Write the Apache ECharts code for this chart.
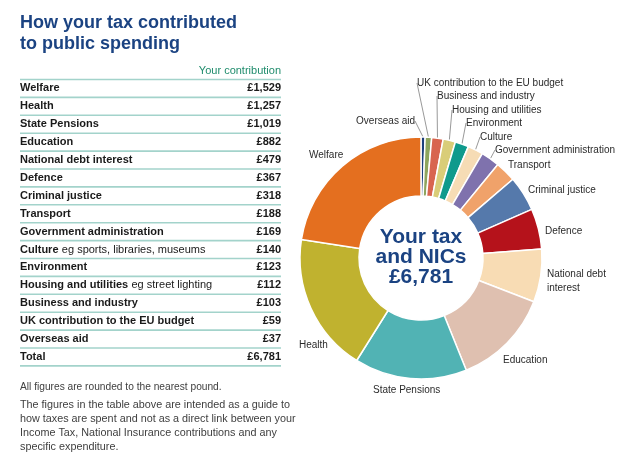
<!DOCTYPE html>
<html>
<head>
<meta charset="utf-8">
<script src="https://cdn.jsdelivr.net/npm/echarts@6/dist/echarts.min.js"></script>
<style>
html,body{margin:0;padding:0;background:#fff;}
#chart{width:621px;height:454px;}
</style>
</head>
<body>
<div id="chart"></div>
<script>
// ---- data ----
const titleLines = ['How your tax contributed', 'to public spending'];
const columnHeader = 'Your contribution';
const categories = ['Welfare', 'Health', 'State Pensions', 'Education', 'National debt interest', 'Defence', 'Criminal justice', 'Transport', 'Government administration', 'Culture', 'Environment', 'Housing and utilities', 'Business and industry', 'UK contribution to the EU budget', 'Overseas aid'];
const values = [1529, 1257, 1019, 882, 479, 367, 318, 188, 169, 140, 123, 112, 103, 59, 37];
const categoryNotes = ['', '', '', '', '', '', '', '', '', 'eg sports, libraries, museums', '', 'eg street lighting', '', '', ''];
const pieLabels = ['Welfare', 'Health', 'State Pensions', 'Education', 'National debt\ninterest', 'Defence', 'Criminal justice', 'Transport', 'Government administration', 'Culture', 'Environment', 'Housing and utilities', 'Business and industry', 'UK contribution to the EU budget', 'Overseas aid'];
const totalLabel = 'Total';
const totalValue = 6781;
const centerLines = ['Your tax', 'and NICs'];
const footnotes = ['All figures are rounded to the nearest pound.'];
const disclaimer = ['The figures in the table above are intended as a guide to', 'how taxes are spent and not as a direct link between your', 'Income Tax, National Insurance contributions and any', 'specific expenditure.'];

// ---- styles / layout ----
const colors = {
  'Welfare': '#e46f1f', 'Health': '#c0b22f', 'State Pensions': '#51b3b4', 'Education': '#dfc0b0',
  'National debt interest': '#f8dcb4', 'Defence': '#b5121b', 'Criminal justice': '#5579ab',
  'Transport': '#f0a26a', 'Government administration': '#7f72ad', 'Culture': '#f6dcb5',
  'Environment': '#0f9a8c', 'Housing and utilities': '#d9cd78', 'Business and industry': '#d8654f',
  'UK contribution to the EU budget': '#8ea55e', 'Overseas aid': '#1c3f7c'
};
const labelPos = {
  'Overseas aid': [415, 121, 'right'], 'UK contribution to the EU budget': [417, 83, 'left'],
  'Business and industry': [437, 96, 'left'], 'Housing and utilities': [452, 110, 'left'],
  'Environment': [466, 123, 'left'], 'Culture': [480, 137, 'left'],
  'Government administration': [495, 150, 'left'], 'Transport': [508, 165, 'left'],
  'Criminal justice': [528, 190, 'left'], 'Defence': [545, 231, 'left'],
  'National debt interest': [547, 281, 'left'], 'Education': [503, 360, 'left'],
  'State Pensions': [373, 390, 'left'], 'Health': [299, 345, 'left'], 'Welfare': [309, 155, 'left']
};
const withLine = ['Overseas aid', 'UK contribution to the EU budget', 'Business and industry', 'Housing and utilities', 'Environment', 'Culture', 'Government administration'];

const FONT = '"Liberation Sans", Arial, sans-serif';
const NAVY = '#1b4382';
const fmt = v => '£' + v.toLocaleString('en-GB');

const TX0 = 20, TX1 = 281, LINE0 = 79.5, ROWH = 17.9;

const graphics = [];
titleLines.forEach((t, i) => graphics.push({
  type: 'text', x: TX0, y: 23.5 + i * 21,
  style: { text: t, font: 'bold 18px ' + FONT, fill: NAVY, textVerticalAlign: 'middle' }
}));
graphics.push({
  type: 'text', x: TX1, y: 71,
  style: { text: columnHeader, font: '11px ' + FONT, fill: '#1f8c6c', textAlign: 'right', textVerticalAlign: 'middle' }
});
const rows = categories.map((c, i) => ({ name: c, note: categoryNotes[i], value: values[i] }));
rows.push({ name: totalLabel, note: '', value: totalValue });
for (let k = 0; k <= rows.length; k++) {
  graphics.push({
    type: 'line', shape: { x1: TX0, y1: LINE0 + k * ROWH, x2: TX1, y2: LINE0 + k * ROWH },
    style: { stroke: '#a3d3cb', lineWidth: 1.6 }
  });
}
rows.forEach((r, i) => {
  const y = LINE0 + ROWH * (i + 0.5);
  graphics.push({
    type: 'text', x: TX0, y: y,
    style: {
      text: r.note ? '{b|' + r.name + '} {n|' + r.note + '}' : '{b|' + r.name + '}',
      textVerticalAlign: 'middle',
      rich: {
        b: { font: 'bold 11px ' + FONT, fill: '#1a1a1a' },
        n: { font: '11px ' + FONT, fill: '#1a1a1a' }
      }
    }
  });
  graphics.push({
    type: 'text', x: TX1, y: y,
    style: { text: fmt(r.value), font: 'bold 11px ' + FONT, fill: '#1a1a1a', textAlign: 'right', textVerticalAlign: 'middle' }
  });
});
footnotes.forEach((t, i) => graphics.push({
  type: 'text', x: TX0, y: 387,
  style: { text: t, font: '10.2px ' + FONT, fill: '#404040', textVerticalAlign: 'middle' }
}));
disclaimer.forEach((t, i) => graphics.push({
  type: 'text', x: TX0, y: 405 + i * 14,
  style: { text: t, font: '10.8px ' + FONT, fill: '#404040', textVerticalAlign: 'middle' }
}));
centerLines.concat([fmt(totalValue)]).forEach((t, i) => graphics.push({
  type: 'text', x: 421, y: 237.5 + i * 20, z: 10,
  style: { text: t, font: 'bold 21px ' + FONT, fill: NAVY, textAlign: 'center', textVerticalAlign: 'middle' }
}));

// pie data: clockwise from 12 o'clock, starting with the smallest
const pieData = categories.map((c, i) => ({
  name: c, value: values[i],
  itemStyle: { color: colors[c] },
  label: { formatter: pieLabels[i] },
  labelLine: { show: withLine.indexOf(c) >= 0 }
})).reverse();

const chart = echarts.init(document.getElementById('chart'), null, { renderer: 'canvas' });
chart.setOption({
  backgroundColor: '#fff',
  animation: false,
  graphic: graphics,
  series: [{
    type: 'pie',
    center: [421, 258],
    radius: [62, 121],
    startAngle: 90,
    clockwise: true,
    avoidLabelOverlap: false,
    itemStyle: { borderColor: '#fff', borderWidth: 1.5 },
    label: {
      show: true, position: 'outside', fontFamily: FONT, fontSize: 10, color: '#2b2b2b', lineHeight: 14
    },
    labelLine: { show: false, length: 6, length2: 0, lineStyle: { color: '#999', width: 1 } },
    labelLayout: function (p) {
      const item = pieData[p.dataIndex];
      const pos = item && labelPos[item.name];
      if (!pos) return {};
      return { x: pos[0], y: pos[1], align: pos[2], verticalAlign: 'middle', hideOverlap: false };
    },
    emphasis: { disabled: true },
    data: pieData
  }]
});
</script>
</body>
</html>
